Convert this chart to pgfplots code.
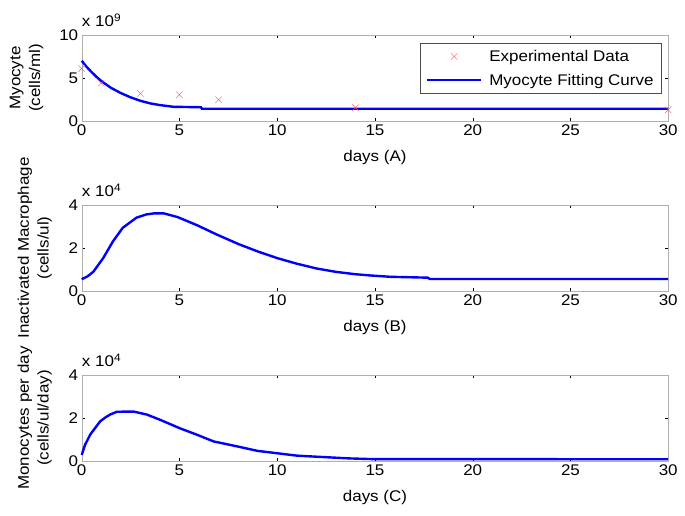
\documentclass[border=0pt]{standalone}
\usepackage{pgfplots}
\pgfplotsset{compat=1.18}
\usepackage{fontspec}
\setmainfont[FakeStretch=1.1]{Liberation Sans}

\definecolor{dataRed}{RGB}{240,90,90}
\definecolor{boxGray}{RGB}{175,175,175}
\newcommand{\figfont}{\fontsize{15.5}{20}\selectfont}

\pgfplotsset{
  panel/.style={
    scale only axis, width=586.5bp, height=86bp,
    xmin=0, xmax=30, ymin=0, xtick={0,5,...,30},
    axis line style={boxGray}, tick style={black, thin},
    tick align=inside, major tick length=3bp,
    /pgf/number format/assume math mode=true,
    ticklabel style={font=\figfont},
    label style={font=\figfont},
    xlabel style={at={(axis description cs:0.5,-0.43)}, anchor=center},
    ylabel style={anchor=center, align=center},
    scaled y ticks=false, clip=false,
  },
  curve/.style={blue, line width=2.4bp},
  markleg/.style={legend image code/.code={\draw[##1] plot coordinates {(27bp,0)};}},
  lineleg/.style={legend image code/.code={\draw[##1] (0,0) -- (54bp,0);}},
}
\tikzset{scalenote/.style={anchor=base west, font=\figfont, inner sep=0pt, yshift=8bp}}

\begin{document}
\begin{tikzpicture}
\useasboundingbox (0,0) rectangle (685bp,516bp);

% (A) myocyte
\begin{axis}[panel, at={(81.7bp,395bp)}, ymax=10, ytick={0,5,10},
  xlabel={days (A)}, ylabel={Myocyte\\(cells/ml)},
  ylabel style={at={(axis description cs:-0.094,0.5)}},
  legend style={at={(axis description cs:0.989,0.907)}, anchor=north east,
    draw=black!70, thin, font=\figfont, row sep=7bp, inner xsep=6bp, inner ysep=5bp,
    /tikz/every odd column/.append style={column sep=5bp}},
  legend cell align=left]
  \addplot[only marks, mark=x, mark size=4.5bp, dataRed, thin, markleg]
    coordinates {
    (0,6.1) (1,4.4) (3,3.2) (5,3.05) (7,2.47) (14,1.55) (30,1.3) };
  \addlegendentry{Experimental Data}
  \addplot[curve, lineleg] coordinates {
    (0,7.00) (0.25,6.30) (0.5,5.70) (0.75,5.15) (1,4.65) (1.5,3.85)
    (2,3.25) (2.5,2.75) (3,2.35) (3.5,2.05) (4,1.85) (4.7,1.65)
    (6.1,1.60) (6.15,1.42) (30,1.42) };
  \addlegendentry{Myocyte Fitting Curve}
  \node[scalenote] at (rel axis cs:0,1) {x 10\textsuperscript{9}};
\end{axis}

% (B) inactivated macrophage
\begin{axis}[panel, at={(81.7bp,225bp)}, ymax=4, ytick={0,2,4},
  xlabel={days (B)}, ylabel={Inactivated Macrophage\\(cells/ul)},
  ylabel style={at={(axis description cs:-0.080,0.5)}}]
  \addplot[curve] coordinates {
    (0,0.55) (0.3,0.68) (0.6,0.90) (1.1,1.53) (1.6,2.31) (2.1,2.94)
    (2.8,3.41) (3.3,3.56) (3.7,3.61) (4.2,3.61) (4.9,3.44) (5.9,3.06)
    (6.9,2.63) (8,2.19) (9,1.84) (10,1.53) (11,1.27) (12,1.05)
    (13,0.89) (14,0.78) (14.8,0.72) (15.8,0.66) (17.7,0.62) (17.8,0.56)
    (30,0.56) };
  \node[scalenote] at (rel axis cs:0,1) {x 10\textsuperscript{4}};
\end{axis}

% (C) monocytes per day
\begin{axis}[panel, at={(81.7bp,55bp)}, ymax=4, ytick={0,2,4},
  xlabel={days (C)}, ylabel={Monocytes per day\\(cells/ul/day)},
  ylabel style={at={(axis description cs:-0.080,0.5)}}]
  \addplot[curve] coordinates {
    (0,0.28) (0.17,0.75) (0.43,1.22) (0.7,1.55) (0.94,1.84) (1.2,2.02)
    (1.45,2.16) (1.8,2.29) (2.65,2.30) (3.33,2.16) (4,1.92) (5,1.53)
    (5.9,1.22) (6.75,0.91) (8,0.67) (9,0.47) (10,0.36) (11,0.25)
    (12,0.20) (13.7,0.12) (14.8,0.09) (30,0.08) };
  \node[scalenote] at (rel axis cs:0,1) {x 10\textsuperscript{4}};
\end{axis}
\end{tikzpicture}
\end{document}
